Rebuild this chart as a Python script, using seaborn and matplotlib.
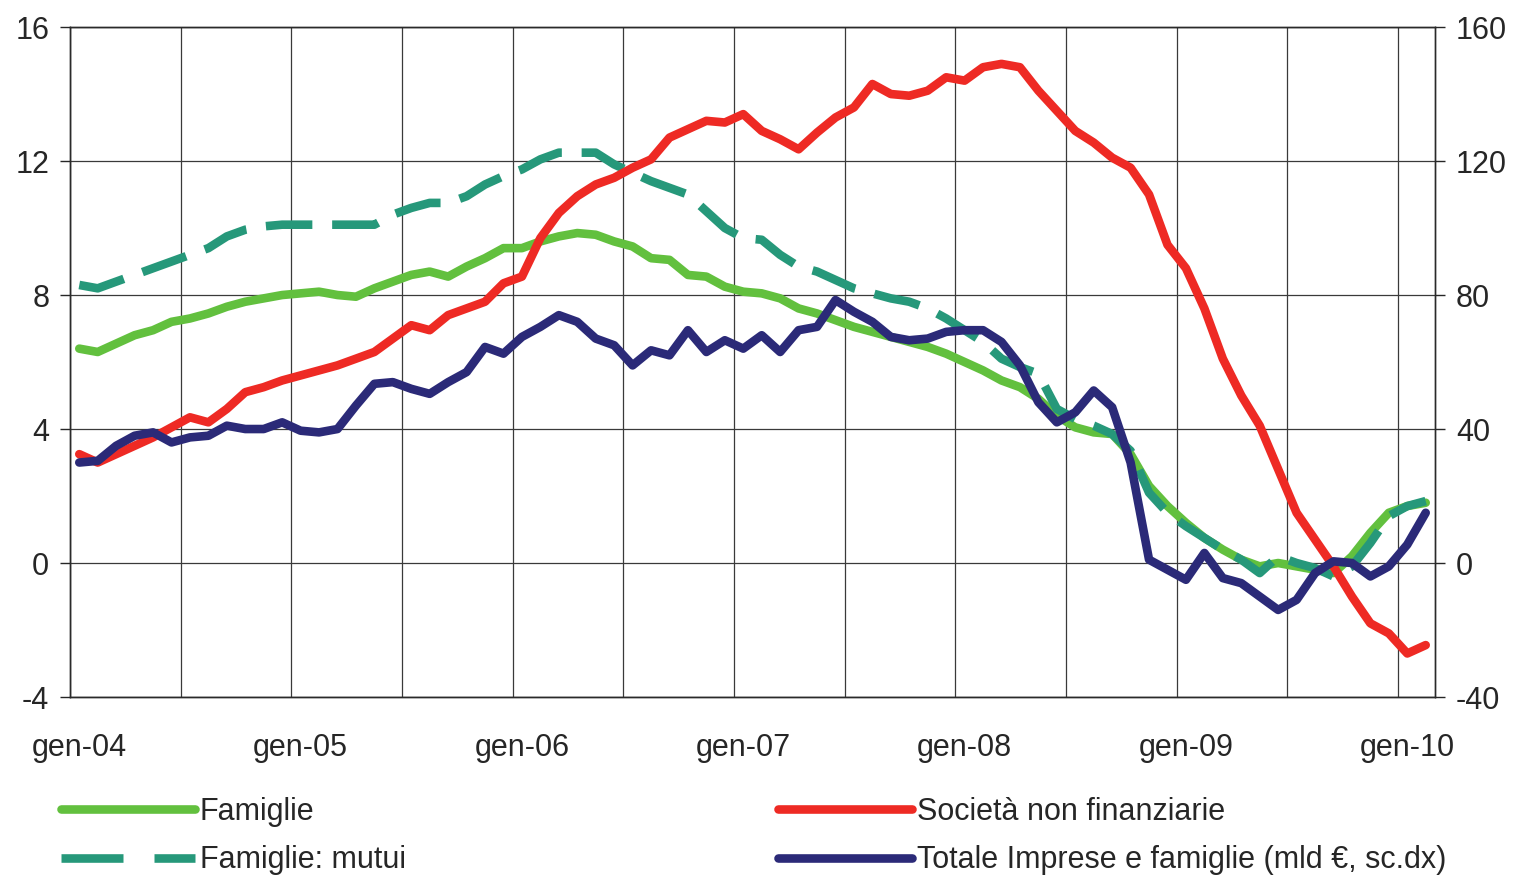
import numpy as np
import pandas as pd
import matplotlib
matplotlib.use("Agg")
import matplotlib.pyplot as plt
from matplotlib.lines import Line2D
from matplotlib.ticker import FixedLocator, MultipleLocator
import seaborn as sns

sns.set_style("ticks")
plt.rcParams['font.family'] = ['Liberation Sans Narrow', 'Liberation Sans', 'DejaVu Sans']
plt.rcParams['axes.unicode_minus'] = False

# monthly data, gen-04 .. feb-10
year_labels = ["gen-04", "gen-05", "gen-06", "gen-07", "gen-08", "gen-09", "gen-10"]

famiglie = [6.4, 6.3, 6.55, 6.8, 6.95, 7.2, 7.3, 7.45, 7.65, 7.8, 7.9, 8.0,
            8.05, 8.1, 8.0, 7.95, 8.2, 8.4, 8.6, 8.7, 8.55, 8.85, 9.1, 9.4,
            9.4, 9.6, 9.75, 9.85, 9.8, 9.6, 9.45, 9.1, 9.05, 8.6, 8.55, 8.25,
            8.1, 8.05, 7.9, 7.6, 7.45, 7.25, 7.05, 6.9, 6.75, 6.6, 6.45, 6.25,
            6.0, 5.75, 5.45, 5.25, 4.9, 4.4, 4.05, 3.9, 3.85, 3.25, 2.3, 1.7,
            1.2, 0.75, 0.4, 0.1, -0.1, 0.0, -0.1, -0.2, -0.3, 0.2, 0.9, 1.5,
            1.7, 1.8]

mutui = [8.3, 8.2, 8.4, 8.6, 8.8, 9.0, 9.2, 9.4, 9.75, 9.95, 10.05, 10.1,
         10.1, 10.1, 10.1, 10.1, 10.1, 10.4, 10.6, 10.75, 10.75, 10.95, 11.3, 11.55,
         11.75, 12.05, 12.25, 12.25, 12.25, 11.9, 11.65, 11.4, 11.2, 11.0, 10.5, 10.0,
         9.7, 9.65, 9.2, 8.85, 8.7, 8.45, 8.2, 8.05, 7.9, 7.8, 7.6, 7.3,
         6.95, 6.6, 6.1, 5.85, 5.65, 4.6, 4.3, 4.1, 3.85, 3.35, 2.1, 1.5,
         1.1, 0.75, 0.4, 0.1, -0.3, 0.2, 0.0, -0.15, -0.4, -0.1, 0.6, 1.4,
         1.7, 1.85]

societa = [3.25, 3.0, 3.25, 3.5, 3.75, 4.05, 4.35, 4.2, 4.6, 5.1, 5.25, 5.45,
           5.6, 5.75, 5.9, 6.1, 6.3, 6.7, 7.1, 6.95, 7.4, 7.6, 7.8, 8.35,
           8.55, 9.7, 10.45, 10.95, 11.3, 11.5, 11.8, 12.05, 12.7, 12.95, 13.2, 13.15,
           13.4, 12.9, 12.65, 12.35, 12.85, 13.3, 13.6, 14.3, 14.0, 13.95, 14.1, 14.5,
           14.4, 14.8, 14.9, 14.8, 14.1, 13.5, 12.9, 12.55, 12.1, 11.8, 11.0, 9.5,
           8.8, 7.6, 6.1, 5.0, 4.1, 2.8, 1.5, 0.7, -0.1, -1.0, -1.8, -2.1,
           -2.7, -2.45]

# mld euro, right scale
totale = [30, 30.5, 35, 38, 39, 36, 37.5, 38, 41, 40, 40, 42,
          39.5, 39, 40, 47, 53.5, 54, 52, 50.5, 54, 57, 64.5, 62.5,
          67.5, 70.5, 74, 72, 67, 65, 59, 63.5, 62, 69.5, 63, 66.5,
          64, 68, 63, 69.5, 70.5, 78.5, 75, 72, 67.5, 66.5, 67, 69,
          69.5, 69.5, 66, 59, 48, 42, 45, 51.5, 46.5, 30, 1, -2,
          -5, 3, -4.5, -6, -10, -14, -11, -3, 0.5, 0, -4, -1,
          5.5, 15]

n = len(famiglie)
df = pd.DataFrame({
    "pos": np.arange(n) + 0.5,
    "famiglie": famiglie,
    "mutui": mutui,
    "societa": societa,
    "totale": totale,
})

c_fam = "#62c03e"
c_mut = "#26987a"
c_soc = "#ee2a24"
c_tot = "#2b2a78"
lw = 6.2
fs = 22

fig = plt.figure(figsize=(15.13, 8.75), dpi=100)
ax = fig.add_axes([0.0463, 0.2034, 0.9021, 0.7657])
ax2 = ax.twinx()

# grid behind everything
ax.set_axisbelow(True)
ax.xaxis.set_minor_locator(MultipleLocator(6))
ax.grid(which="minor", axis="x", color="#3a3a3a", lw=0.9)
ax.grid(which="major", axis="y", color="#3a3a3a", lw=0.9)

sns.lineplot(data=df, x="pos", y="famiglie", ax=ax, color=c_fam, lw=lw, legend=False)
sns.lineplot(data=df, x="pos", y="mutui", ax=ax, color=c_mut, lw=lw, legend=False)
ax.lines[-1].set_dashes([5.4, 2.3])
ax.lines[-1].set_dash_capstyle("butt")
sns.lineplot(data=df, x="pos", y="societa", ax=ax, color=c_soc, lw=lw, legend=False)
sns.lineplot(data=df, x="pos", y="totale", ax=ax2, color=c_tot, lw=lw, legend=False)

ax.set_xlim(0, n)
ax.set_ylim(-4, 16)
ax.set_yticks(np.arange(-4, 17, 4))
ax2.set_ylim(-40, 160)
ax2.set_yticks(np.arange(-40, 161, 40))

ax.xaxis.set_major_locator(FixedLocator([0.5 + 12 * k for k in range(len(year_labels))]))
ax.set_xticklabels(year_labels)
ax.tick_params(axis="x", which="major", length=0, pad=26, labelsize=fs)
ax.tick_params(axis="x", which="minor", length=0)
ax.tick_params(axis="y", length=7, width=1.0, pad=8, labelsize=fs)
ax2.tick_params(axis="y", length=7, width=1.0, pad=8, labelsize=fs)

ax.set_xlabel("")
ax.set_ylabel("")
ax2.set_ylabel("")
for a in (ax, ax2):
    for s in a.spines.values():
        s.set_color("#2a2a2a")
        s.set_linewidth(1.0)

handles = [
    Line2D([], [], color=c_fam, lw=lw, solid_capstyle="round"),
    Line2D([], [], color=c_mut, lw=lw, dashes=[7.2, 3.6], dash_capstyle="butt"),
    Line2D([], [], color=c_soc, lw=lw, solid_capstyle="round"),
    Line2D([], [], color=c_tot, lw=lw, solid_capstyle="round"),
]
labels = ["Famiglie", "Famiglie: mutui", "Società non finanziarie",
          "Totale Imprese e famiglie (mld €, sc.dx)"]

leg_kw = dict(frameon=False, fontsize=fs, handlelength=4.4, handletextpad=0.15,
              borderpad=0, borderaxespad=0, labelspacing=0.6, loc="upper left")
fig.legend(handles[:2], labels[:2], bbox_to_anchor=(0.040, 0.089), **leg_kw)
fig.legend(handles[2:], labels[2:], bbox_to_anchor=(0.514, 0.089), **leg_kw)

fig.savefig("out.png", dpi=100)
